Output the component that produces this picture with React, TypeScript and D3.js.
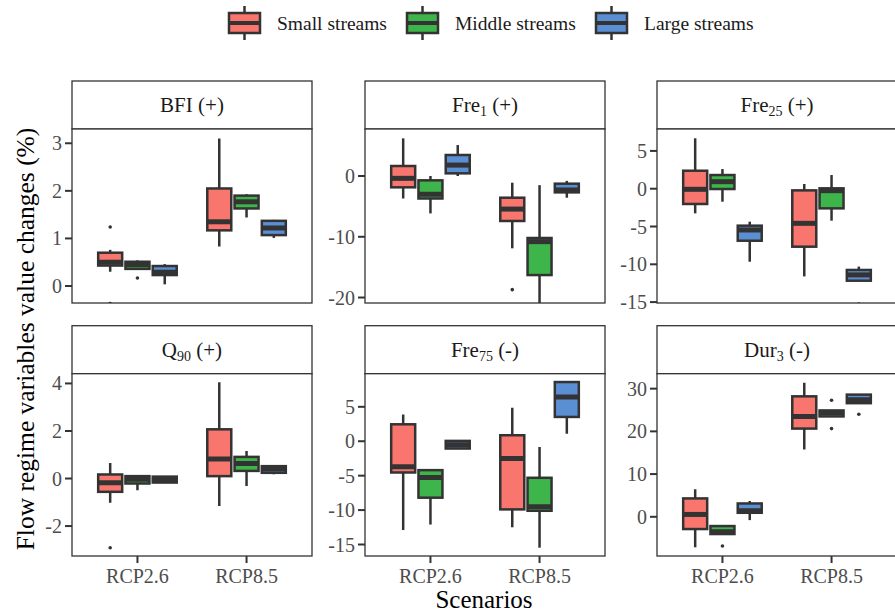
import React from 'react';
import * as d3 from 'd3';

const scenarios = ['RCP2.6', 'RCP8.5'];
const streams = ['Small streams', 'Middle streams', 'Large streams'];
const streamColors = ['#F8766D', '#3DB54A', '#5B8FD4'];

// facet label parts: name, subscript, sign
const facetNames = ['BFI', 'Fre', 'Fre', 'Q', 'Fre', 'Dur'];
const facetSubs = ['', '1', '25', '90', '75', '3'];
const facetSigns = ['(+)', '(+)', '(+)', '(+)', '(-)', '(-)'];

const yDomains = [
  [-0.357, 3.3],
  [-20.9, 7.74],
  [-15.12, 7.9],
  [-3.26, 4.41],
  [-16.67, 9.81],
  [-9.18, 33.5],
];
const yTicks = [
  [0, 1, 2, 3],
  [-20, -10, 0],
  [-15, -10, -5, 0, 5],
  [-2, 0, 2, 4],
  [-15, -10, -5, 0, 5],
  [0, 10, 20, 30],
];

// [lower whisker, q1, median, q3, upper whisker] per facet, [RCP2.6, RCP8.5]
const smallStats = [
  [[0.3, 0.43, 0.5, 0.7, 0.76], [0.83, 1.17, 1.35, 2.05, 3.1]],
  [[-3.7, -1.86, -0.38, 1.65, 6.2], [-11.9, -7.4, -5.44, -3.57, -1.1]],
  [[-3.26, -2.02, -0.08, 2.38, 6.67], [-11.6, -7.67, -4.58, -0.22, 0.62]],
  [[-1.02, -0.56, -0.18, 0.17, 0.65], [-1.16, 0.1, 0.82, 2.07, 4.05]],
  [[-12.9, -4.54, -3.72, 2.46, 3.9], [-12.5, -9.9, -2.5, 0.87, 4.88]],
  [[-7.15, -2.87, 0.55, 4.3, 6.47], [15.74, 20.65, 23.5, 28.2, 31.4]],
];
const middleStats = [
  [[0.36, 0.36, 0.45, 0.51, 0.54], [1.44, 1.63, 1.77, 1.9, 1.93]],
  [[-6.15, -3.7, -3.0, -0.71, 0], [-21, -16.3, -10.8, -10.2, -1.5]],
  [[-1.72, -0.04, 0.93, 1.81, 2.6], [-4.23, -2.6, -0.26, 0.05, 1.81]],
  [[-0.49, -0.21, -0.03, 0.1, 0.1], [-0.32, 0.32, 0.63, 0.91, 1.16]],
  [[-12.1, -8.2, -5.27, -4.2, -4.2], [-15.46, -10.1, -9.5, -5.31, -0.82]],
  [[-4.04, -4.04, -3.5, -2.17, -2.17], [23.5, 23.5, 24.4, 24.9, 24.9]],
];
const largeStats = [
  [[0.035, 0.23, 0.29, 0.42, 0.46], [1.01, 1.07, 1.22, 1.37, 1.39]],
  [[0, 0.44, 1.8, 3.46, 5.1], [-3.57, -2.69, -2.3, -1.26, -0.8]],
  [[-9.66, -6.88, -5.46, -4.89, -4.36], [-12.17, -12.17, -11.4, -10.75, -10.3]],
  [[-0.17, -0.17, -0.05, 0.08, 0.08], [0.18, 0.24, 0.4, 0.52, 0.52]],
  [[-1.06, -1.06, -0.5, 0.05, 0.05], [1.1, 3.53, 6.43, 8.6, 8.6]],
  [[-0.78, 0.94, 1.4, 3.12, 3.67], [26.6, 26.6, 27.4, 28.6, 28.6]],
];

const smallOutliers = [[[1.24, -0.37], []], [[], [-18.7]], [[], []], [[-2.91], []], [[], []], [[], []]];
const middleOutliers = [[[0.17], []], [[], []], [[], []], [[], []], [[], []], [[-6.85], [27.3, 20.65]]];
const largeOutliers = [[[], []], [[], []], [[], [-15.25]], [[], []], [[], []], [[], [24.0]]];

const allStats = [smallStats, middleStats, largeStats];
const allOutliers = [smallOutliers, middleOutliers, largeOutliers];

const W = 895;
const H = 613;
const panelLefts = [72, 365, 657];
const panelW = 240;
const stripTops = [81, 325.7];
const stripH = 48;
const panelBottoms = [303, 556];
const dark = '#333333';
const font = '"Liberation Serif", "Times New Roman", serif';

const StripLabel = ({ i, x, y }: { i: number; x: number; y: number }) => (
  <text x={x} y={y} textAnchor="middle" fontSize={21} fill="#1a1a1a" fontFamily={font}>
    {facetNames[i]}
    {facetSubs[i] && (
      <tspan fontSize={14} dy={4}>{facetSubs[i]}</tspan>
    )}
    <tspan dy={facetSubs[i] ? -4 : 0}>{' ' + facetSigns[i]}</tspan>
  </text>
);

const Box = ({ cx, w, s, y, color }: { cx: number; w: number; s: number[]; y: d3.ScaleLinear<number, number>; color: string }) => {
  const [lo, q1, med, q3, hi] = s;
  return (
    <g>
      <line x1={cx} x2={cx} y1={y(q3)} y2={y(hi)} stroke={dark} strokeWidth={2.5} />
      <line x1={cx} x2={cx} y1={y(q1)} y2={y(lo)} stroke={dark} strokeWidth={2.5} />
      <rect x={cx - w / 2} y={y(q3)} width={w} height={Math.max(0, y(q1) - y(q3))}
        fill={color} stroke={dark} strokeWidth={2.5} />
      <line x1={cx - w / 2} x2={cx + w / 2} y1={y(med)} y2={y(med)} stroke={dark} strokeWidth={5} />
    </g>
  );
};

const Panel = ({ i }: { i: number }) => {
  const row = Math.floor(i / 3);
  const col = i % 3;
  const left = panelLefts[col];
  const top = stripTops[row] + stripH;
  const bottom = panelBottoms[row];

  const x = d3.scalePoint<string>().domain(scenarios).range([left, left + panelW]).padding(0.6);
  const unit = x.step();
  const xs = d3.scaleBand<string>().domain(streams)
    .range([-0.375 * unit, 0.375 * unit]).paddingInner(0.12).paddingOuter(0.06);
  const y = d3.scaleLinear().domain(yDomains[i]).range([bottom, top]);
  const clipId = `clip-${i}`;

  return (
    <g>
      <defs>
        <clipPath id={clipId}>
          <rect x={left} y={top} width={panelW} height={bottom - top} />
        </clipPath>
      </defs>
      {/* strip */}
      <rect x={left} y={stripTops[row]} width={panelW} height={stripH} fill="#ffffff" stroke={dark} strokeWidth={1.3} />
      <StripLabel i={i} x={left + panelW / 2} y={stripTops[row] + stripH / 2 + 7} />
      {/* panel */}
      <rect x={left} y={top} width={panelW} height={bottom - top} fill="#ffffff" />
      <g clipPath={`url(#${clipId})`}>
        {scenarios.map((sc, si) =>
          streams.map((st, k) => {
            const cx = (x(sc) as number) + (xs(st) as number) + xs.bandwidth() / 2;
            return (
              <g key={sc + st}>
                <Box cx={cx} w={xs.bandwidth()} s={allStats[k][i][si]} y={y} color={streamColors[k]} />
                {allOutliers[k][i][si].map((v, j) => (
                  <circle key={j} cx={cx} cy={y(v)} r={1.8} fill={dark} />
                ))}
              </g>
            );
          })
        )}
      </g>
      <rect x={left} y={top} width={panelW} height={bottom - top} fill="none" stroke={dark} strokeWidth={1.3} />
      {/* y axis */}
      {yTicks[i].map((t) => (
        <g key={t}>
          <line x1={left - 7} x2={left} y1={y(t)} y2={y(t)} stroke={dark} strokeWidth={2} />
          <text x={left - 10} y={y(t)} dy="0.35em" textAnchor="end" fontSize={20} fill="#4d4d4d" fontFamily={font}>
            {t}
          </text>
        </g>
      ))}
      {/* x axis on bottom row */}
      {row === 1 && scenarios.map((sc) => (
        <g key={sc}>
          <line x1={x(sc)} x2={x(sc)} y1={bottom} y2={bottom + 7} stroke={dark} strokeWidth={2} />
          <text x={x(sc)} y={bottom + 27} textAnchor="middle" fontSize={20} fill="#4d4d4d" fontFamily={font}>
            {sc}
          </text>
        </g>
      ))}
    </g>
  );
};

const legendX = [229, 407, 596];

const Legend = () => (
  <g>
    {streams.map((st, k) => {
      const bx = legendX[k];
      const cx = bx + 15.5;
      return (
        <g key={st}>
          <line x1={cx} x2={cx} y1={6} y2={40} stroke={dark} strokeWidth={2.5} />
          <rect x={bx} y={13} width={31} height={20} fill={streamColors[k]} stroke={dark} strokeWidth={2.5} />
          <line x1={bx} x2={bx + 31} y1={23} y2={23} stroke={dark} strokeWidth={4} />
          <text x={bx + 48} y={30} fontSize={19.5} fill="#1a1a1a" fontFamily={font}>{st}</text>
        </g>
      );
    })}
  </g>
);

export default function App() {
  return (
    <svg width={W} height={H} style={{ position: 'absolute', left: 0, top: 0, background: '#ffffff' }}>
      <rect width={W} height={H} fill="#ffffff" />
      <Legend />
      {d3.range(6).map((i) => <Panel key={i} i={i} />)}
      <text x={484} y={608} textAnchor="middle" fontSize={25} fill="#000" fontFamily={font}>Scenarios</text>
      <text transform="translate(34,339) rotate(-90)" textAnchor="middle" fontSize={25.5} fill="#000" fontFamily={font}>
        Flow regime variables value changes (%)
      </text>
    </svg>
  );
}
